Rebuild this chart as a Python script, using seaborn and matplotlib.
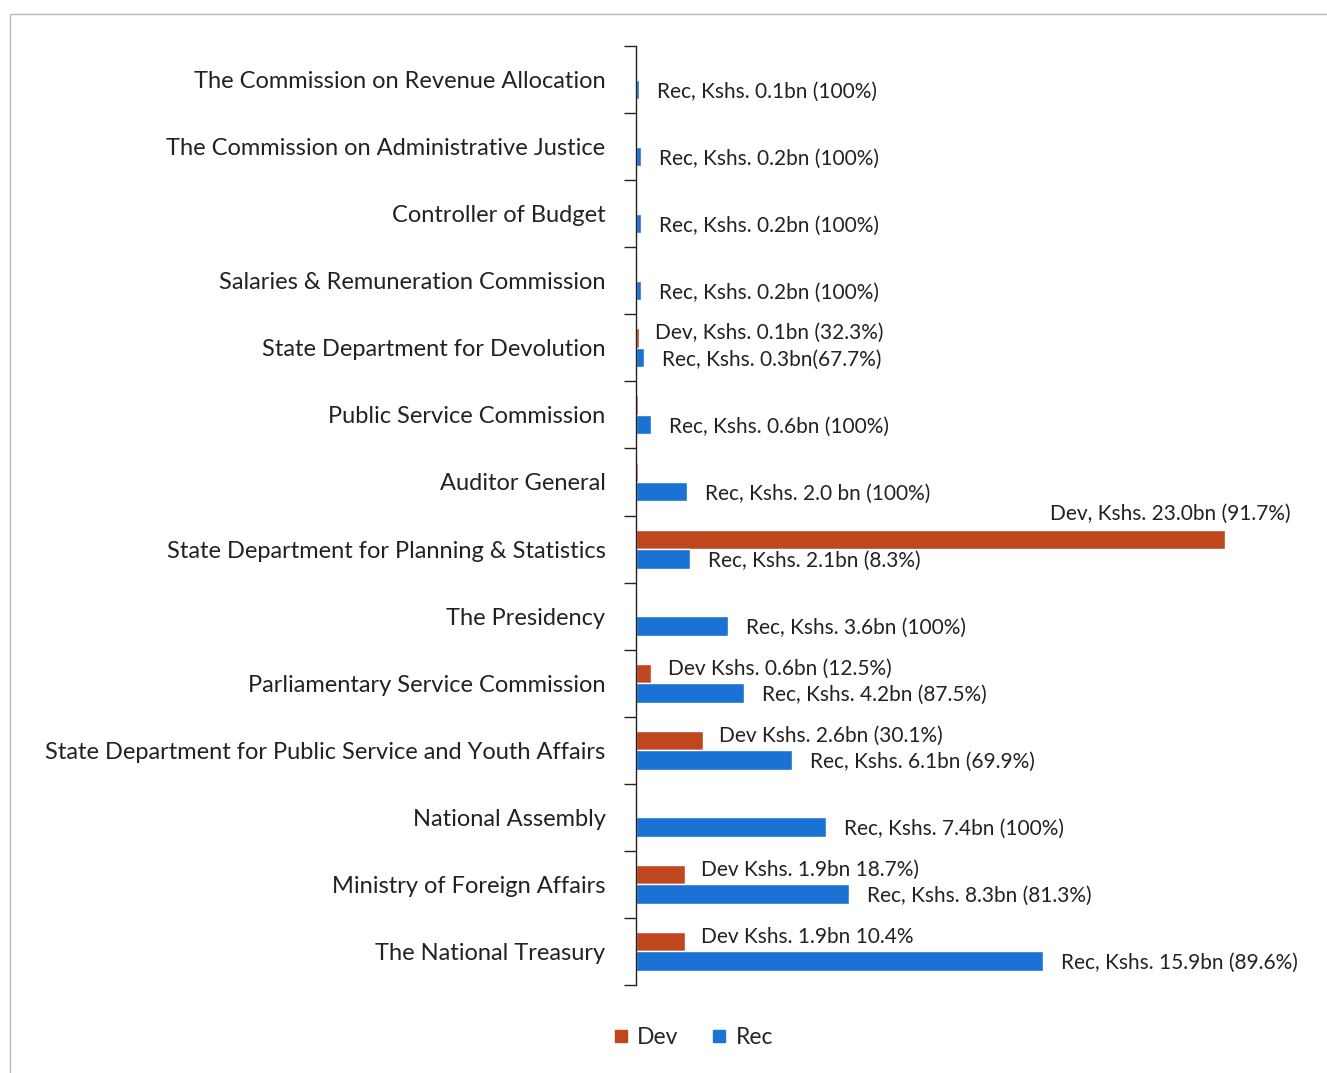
import numpy as np
import pandas as pd
import matplotlib
matplotlib.use("Agg")
import matplotlib.pyplot as plt
from matplotlib.patches import Rectangle
import seaborn as sns

# ------------------------------------------------------------------
# data (top to bottom as in the chart)
# ------------------------------------------------------------------
agencies = [
    "The Commission on Revenue Allocation",
    "The Commission on Administrative Justice",
    "Controller of Budget",
    "Salaries & Remuneration Commission",
    "State Department for Devolution",
    "Public Service Commission",
    "Auditor General",
    "State Department for Planning & Statistics",
    "The Presidency",
    "Parliamentary Service Commission",
    "State Department for Public Service and Youth Affairs",
    "National Assembly",
    "Ministry of Foreign Affairs",
    "The National Treasury",
]
dev_values = [0.0, 0.0, 0.0, 0.0, 0.1, 0.08, 0.08, 23.0, 0.0, 0.6, 2.6, 0.0, 1.9, 1.9]
rec_values = [0.1, 0.2, 0.2, 0.2, 0.3, 0.6, 2.0, 2.1, 3.6, 4.2, 6.1, 7.4, 8.3, 15.9]

dev_labels = [None, None, None, None,
              "Dev, Kshs. 0.1bn (32.3%)", None, None,
              "Dev, Kshs. 23.0bn (91.7%)", None,
              "Dev Kshs. 0.6bn (12.5%)",
              "Dev Kshs. 2.6bn (30.1%)", None,
              "Dev Kshs. 1.9bn 18.7%)",
              "Dev Kshs. 1.9bn 10.4%"]
rec_labels = ["Rec, Kshs. 0.1bn (100%)",
              "Rec, Kshs. 0.2bn (100%)",
              "Rec, Kshs. 0.2bn (100%)",
              "Rec, Kshs. 0.2bn (100%)",
              "Rec, Kshs. 0.3bn(67.7%)",
              "Rec, Kshs. 0.6bn (100%)",
              "Rec, Kshs. 2.0 bn (100%)",
              "Rec, Kshs. 2.1bn (8.3%)",
              "Rec, Kshs. 3.6bn (100%)",
              "Rec, Kshs. 4.2bn (87.5%)",
              "Rec, Kshs. 6.1bn (69.9%)",
              "Rec, Kshs. 7.4bn (100%)",
              "Rec, Kshs. 8.3bn (81.3%)",
              "Rec, Kshs. 15.9bn (89.6%)"]

series = ["Dev", "Rec"]
colors = {"Dev": "#c0461e", "Rec": "#1a73d4"}

df = pd.DataFrame({
    "agency": agencies * 2,
    "value": dev_values + rec_values,
    "type": ["Dev"] * len(agencies) + ["Rec"] * len(agencies),
})

# ------------------------------------------------------------------
# plot
# ------------------------------------------------------------------
sns.set_style("white")
plt.rcParams["font.family"] = ["Lato", "DejaVu Sans"]

fig = plt.figure(figsize=(13.27, 10.73), dpi=100)
ax = fig.add_axes([0.4793, 0.0820, 0.502, 0.8751])

bar_w = 0.58
sns.barplot(data=df, y="agency", x="value", hue="type", hue_order=series,
            palette=colors, orient="h", width=bar_w, saturation=1,
            ax=ax, legend=False)

ax.set_xlim(0, 26)
ax.set_ylim(len(agencies) - 0.5, -0.5)
ax.set_xlabel("")
ax.set_ylabel("")
ax.set_xticks([])

# category boundaries as minor ticks, labels on major ticks
ax.set_yticks(np.arange(len(agencies)))
ax.set_yticklabels(agencies, fontsize=17, color="#222222")
ax.set_yticks(np.arange(len(agencies) + 1) - 0.5, minor=True)
ax.tick_params(axis="y", which="major", length=0, pad=22)
ax.tick_params(axis="y", which="minor", length=9, width=1.0, color="#222222",
               direction="out", left=True)

for s in ["top", "right", "bottom"]:
    ax.spines[s].set_visible(False)
ax.spines["left"].set_color("#222222")
ax.spines["left"].set_linewidth(1.0)

# value labels
half = bar_w / 4
lbl = dict(fontsize=15, color="#222222", va="center")
for i in range(len(agencies)):
    if rec_labels[i]:
        ax.annotate(rec_labels[i], xy=(rec_values[i], i + half),
                    xytext=(13, -1.5), textcoords="offset points",
                    ha="left", **lbl)
    if dev_labels[i]:
        if dev_values[i] > 20:
            ax.annotate(dev_labels[i], xy=(dev_values[i], i - half),
                        xytext=(47, 18), textcoords="offset points",
                        ha="right", **lbl)
        else:
            ax.annotate(dev_labels[i], xy=(dev_values[i], i - half),
                        xytext=(12, 3.5), textcoords="offset points",
                        ha="left", **lbl)

# legend
handles = [plt.Line2D([], [], marker="s", linestyle="none", markersize=9,
                      color=colors[s]) for s in series]
fig.legend(handles, series, loc="center", bbox_to_anchor=(0.520, 0.033),
           ncol=2, frameon=False, fontsize=16.5, handletextpad=0.1,
           columnspacing=1.2, handlelength=1.2)

# light frame around the chart area
fig.patches.append(Rectangle((10 / 1327, -0.01), 1.1, 1 - 14 / 1073 + 0.01,
                             transform=fig.transFigure, fill=False,
                             edgecolor="#b8b8b8", linewidth=1.0))

fig.savefig("out.png", dpi=100)
